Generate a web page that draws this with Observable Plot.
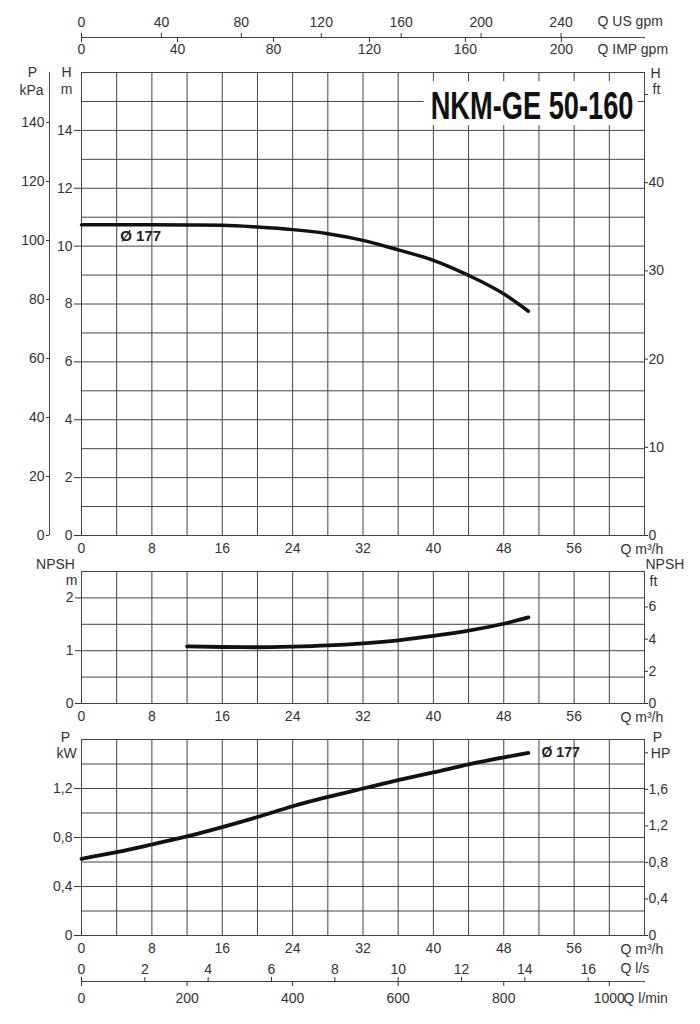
<!DOCTYPE html>
<html><head><meta charset="utf-8">
<script src="https://cdn.jsdelivr.net/npm/d3@7"></script>
<script src="https://cdn.jsdelivr.net/npm/@observablehq/plot@0.6"></script>
<style>
html,body{margin:0;padding:0;background:#fff;overflow:hidden;}
#chart{width:700px;}
#chart svg{display:block;}
</style></head><body><div id="chart"></div>
<script>
// ---------- text ----------
const TITLE = "NKM-GE 50-160";
const IMPELLER = "Ø 177";

// ---------- flow axis (m³/h) ----------
const qDomain = [0, 64];
const qGrid = [0, 4, 8, 12, 16, 20, 24, 28, 32, 36, 40, 44, 48, 52, 56, 60, 64];
const qTicks = [0, 8, 16, 24, 32, 40, 48, 56];

// ---------- secondary flow units ----------
const usGpmTicks = [0, 40, 80, 120, 160, 200, 240];
const impGpmTicks = [0, 40, 80, 120, 160, 200];
const lsTicks = [0, 2, 4, 6, 8, 10, 12, 14, 16];
const lminTicks = [0, 200, 400, 600, 800, 1000];

// ---------- head panel ----------
const headDomain = [0, 16];
const headGrid = [0, 1, 2, 3, 4, 5, 6, 7, 8, 9, 10, 11, 12, 13, 14, 15, 16];
const headTicksM = [0, 2, 4, 6, 8, 10, 12, 14];
const headTicksKPa = [0, 20, 40, 60, 80, 100, 120, 140];
const headTicksFt = [0, 10, 20, 30, 40];
const headTicksFtUnlabelled = [50];
const headQ = [0, 4, 8, 12, 16, 20, 24, 28, 32, 36, 40, 44, 48, 50.8];
const headH = [10.74, 10.74, 10.74, 10.73, 10.72, 10.66, 10.57, 10.43, 10.20, 9.87, 9.51, 8.99, 8.35, 7.75];

// ---------- NPSH panel ----------
const npshDomain = [0, 2.5];
const npshGrid = [0, 0.5, 1, 1.5, 2, 2.5];
const npshTicksM = [0, 1, 2];
const npshTicksFt = [0, 2, 4, 6];
const npshQ = [12, 16, 20, 24, 28, 32, 36, 40, 44, 48, 50.8];
const npshM = [1.083, 1.07, 1.065, 1.077, 1.10, 1.14, 1.197, 1.28, 1.38, 1.51, 1.63];

// ---------- power panel ----------
const powerDomain = [0, 1.6];
const powerGrid = [0, 0.2, 0.4, 0.6, 0.8, 1.0, 1.2, 1.4, 1.6];
const powerTicksKW = [0, 0.4, 0.8, 1.2];
const powerTicksHP = [0, 0.4, 0.8, 1.2, 1.6];
const powerTicksHPUnlabelled = [2.0];
const powerQ = [0, 4, 8, 12, 16, 20, 24, 28, 32, 36, 40, 44, 48, 50.8];
const powerKW = [0.626, 0.68, 0.743, 0.809, 0.885, 0.967, 1.055, 1.131, 1.20, 1.268, 1.331, 1.397, 1.454, 1.49];

// annotation anchors (data units)
const headLabelAt = {q: 4.4, v: 10.35};
const powerLabelAt = {q: 52.3, v: 1.49};

// ---------- unit conversions ----------
const US = 0.227125, IMP = 0.272765, LS = 3.6, LMIN = 0.06;
const KPA = 9.80665, FT = 0.3048, HP = 0.7457;

const comma = v => v === 0 ? "0" : v.toFixed(1).replace(".", ",");
const intStr = v => String(Math.round(v));

const GRID = "#444", INK = "#111";
const FONT = "'Liberation Sans', Arial, sans-serif";

function base(height, marginTop, marginBottom, extra = {}) {
  return {
    width: 700, height, marginLeft: 81, marginRight: 56, marginTop, marginBottom,
    x: {domain: qDomain},
    style: {fontFamily: FONT, fontSize: "14px", color: "#333", background: "#fff", overflow: "visible"},
    ...extra
  };
}
const lbl = (s, o) => Plot.text([s], {lineAnchor: "middle", fill: "#333", ...o});

// ---------- top strip ----------
const topStrip = Plot.plot(base(62, 37, 25, {marks: [
  Plot.frame({anchor: "top", stroke: GRID}),
  Plot.axisX(usGpmTicks.map(v => v * US), {anchor: "top", tickSize: 5, tickPadding: 6, label: null, tickFormat: d => intStr(d / US)}),
  Plot.axisX(impGpmTicks.map(v => v * IMP), {anchor: "bottom", tickSize: 5, tickPadding: 2, label: null, tickFormat: d => intStr(d / IMP)}),
  lbl("Q US gpm", {frameAnchor: "top-right", textAnchor: "start", dx: -47, dy: -16}),
  lbl("Q IMP gpm", {frameAnchor: "bottom-right", textAnchor: "start", dx: -47, dy: 12})
]}));

// ---------- head panel ----------
const headPlot = Plot.plot(base(494, 10, 21, {y: {domain: headDomain}, marks: [
  Plot.gridX(qGrid, {stroke: GRID, strokeOpacity: 1}),
  Plot.gridY(headGrid, {stroke: GRID, strokeOpacity: 1}),
  Plot.frame({stroke: GRID}),
  Plot.axisY(headTicksM, {anchor: "left", tickSize: 7, tickPadding: 2, label: null, tickFormat: intStr}),
  Plot.axisY(headTicksKPa.map(v => v / KPA), {anchor: "left", dx: -32, tickSize: 3, tickPadding: 2, label: null, tickFormat: d => intStr(d * KPA)}),
  Plot.ruleX([qDomain[0]], {dx: -32, y1: headDomain[0], y2: headDomain[1], stroke: GRID}),
  Plot.axisY(headTicksFt.map(v => v * FT), {anchor: "right", tickSize: 3, tickPadding: 1, label: null, tickFormat: d => intStr(d / FT)}),
  Plot.axisY(headTicksFtUnlabelled.map(v => v * FT), {anchor: "right", tickSize: 3, label: null, fill: "none"}),
  Plot.axisX(qTicks, {anchor: "bottom", tickSize: 0, tickPadding: 8, label: null, tickFormat: intStr}),
  lbl("Q m³/h", {frameAnchor: "bottom-right", textAnchor: "start", dx: -24, dy: 14}),
  lbl("P", {frameAnchor: "top-left", textAnchor: "middle", dx: -49, dy: 0}),
  lbl("kPa", {frameAnchor: "top-left", textAnchor: "middle", dx: -50, dy: 18}),
  lbl("H", {frameAnchor: "top-left", textAnchor: "middle", dx: -15, dy: 0}),
  lbl("m", {frameAnchor: "top-left", textAnchor: "middle", dx: -15, dy: 17}),
  lbl("H", {frameAnchor: "top-right", textAnchor: "middle", dx: 11, dy: 1}),
  lbl("ft", {frameAnchor: "top-right", textAnchor: "middle", dx: 12, dy: 17}),
  Plot.text([TITLE], {frameAnchor: "top-right", textAnchor: "end", lineAnchor: "middle", dx: -11, dy: 34, fontSize: 39, fontWeight: "bold", fill: INK}),
  Plot.line(headQ, {x: headQ, y: headH, stroke: INK, strokeWidth: 3.5, curve: "monotone-x"}),
  Plot.text([IMPELLER], {x: headLabelAt.q, y: headLabelAt.v, textAnchor: "start", lineAnchor: "middle", fontSize: 15, fontWeight: "bold", fill: "#222"})
]}));

// ---------- NPSH panel ----------
const npshPlot = Plot.plot(base(170, 15, 23, {y: {domain: npshDomain}, marks: [
  Plot.gridX(qGrid, {stroke: GRID, strokeOpacity: 1}),
  Plot.gridY(npshGrid, {stroke: GRID, strokeOpacity: 1}),
  Plot.frame({stroke: GRID}),
  Plot.axisY(npshTicksM, {anchor: "left", tickSize: 6, tickPadding: 2, label: null, tickFormat: intStr}),
  Plot.axisY(npshTicksFt.map(v => v * FT), {anchor: "right", tickSize: 3, tickPadding: 1, label: null, tickFormat: d => intStr(d / FT)}),
  Plot.axisX(qTicks, {anchor: "bottom", tickSize: 0, tickPadding: 8, label: null, tickFormat: intStr}),
  lbl("Q m³/h", {frameAnchor: "bottom-right", textAnchor: "start", dx: -24, dy: 14}),
  lbl("NPSH", {frameAnchor: "top-left", textAnchor: "middle", dx: -26, dy: -7}),
  lbl("m", {frameAnchor: "top-left", textAnchor: "middle", dx: -10, dy: 9}),
  lbl("NPSH", {frameAnchor: "top-right", textAnchor: "start", dx: 1, dy: -7}),
  lbl("ft", {frameAnchor: "top-right", textAnchor: "start", dx: 5, dy: 10}),
  Plot.line(npshQ, {x: npshQ, y: npshM, stroke: INK, strokeWidth: 3.8, curve: "monotone-x"})
]}));

// ---------- power panel ----------
const powerPlot = Plot.plot(base(236, 13, 27, {y: {domain: powerDomain}, marks: [
  Plot.gridX(qGrid, {stroke: GRID, strokeOpacity: 1}),
  Plot.gridY(powerGrid, {stroke: GRID, strokeOpacity: 1}),
  Plot.frame({stroke: GRID}),
  Plot.axisY(powerTicksKW, {anchor: "left", tickSize: 7, tickPadding: 2, label: null, tickFormat: comma}),
  Plot.axisY(powerTicksHP.map(v => v * HP), {anchor: "right", tickSize: 3, tickPadding: 1, label: null, tickFormat: d => comma(Math.round(d / HP * 10) / 10)}),
  Plot.axisY(powerTicksHPUnlabelled.map(v => v * HP), {anchor: "right", tickSize: 3, label: null, fill: "none"}),
  Plot.axisX(qTicks, {anchor: "bottom", tickSize: 0, tickPadding: 8, label: null, tickFormat: intStr}),
  lbl("Q m³/h", {frameAnchor: "bottom-right", textAnchor: "start", dx: -24, dy: 14}),
  lbl("P", {frameAnchor: "top-left", textAnchor: "middle", dx: -16, dy: -2}),
  lbl("kW", {frameAnchor: "top-left", textAnchor: "middle", dx: -15, dy: 14}),
  lbl("P", {frameAnchor: "top-right", textAnchor: "middle", dx: 13, dy: -2}),
  lbl("HP", {frameAnchor: "top-right", textAnchor: "middle", dx: 16, dy: 14}),
  Plot.line(powerQ, {x: powerQ, y: powerKW, stroke: INK, strokeWidth: 3.8, curve: "monotone-x"}),
  Plot.text([IMPELLER], {x: powerLabelAt.q, y: powerLabelAt.v, textAnchor: "start", lineAnchor: "middle", fontSize: 14, fontWeight: "bold", fill: "#222"})
]}));

// ---------- bottom strip ----------
const bottomStrip = Plot.plot(base(62, 19, 43, {marks: [
  Plot.frame({anchor: "top", stroke: GRID}),
  Plot.axisX(lsTicks.map(v => v * LS), {anchor: "top", tickSize: 5, tickPadding: 3, label: null, tickFormat: d => intStr(d / LS)}),
  Plot.axisX(lminTicks.map(v => v * LMIN), {anchor: "bottom", tickSize: 5, tickPadding: 7, label: null, tickFormat: d => intStr(d / LMIN)}),
  lbl("Q l/s", {frameAnchor: "top-right", textAnchor: "start", dx: -24, dy: -13}),
  lbl("Q l/min", {frameAnchor: "bottom-right", textAnchor: "start", dx: -21, dy: 17})
]}));

const chart = document.getElementById("chart");
[topStrip, headPlot, npshPlot, powerPlot, bottomStrip].forEach(s => chart.appendChild(s));

// condense the title horizontally (as in the original's narrow bold face) and give it a white box
const titleEl = Array.from(headPlot.querySelectorAll("text")).find(e => e.textContent === TITLE);
if (titleEl) {
  const natural = titleEl.getComputedTextLength();
  const s = 203 / natural;
  const tr = titleEl.getAttribute("transform") || "";
  titleEl.setAttribute("transform", `${tr} scale(${s},1)`);
  const bb = titleEl.getBBox();
  const r = document.createElementNS("http://www.w3.org/2000/svg", "rect");
  r.setAttribute("transform", tr);
  r.setAttribute("x", bb.x * s - 7);
  r.setAttribute("y", bb.y - 3);
  r.setAttribute("width", bb.width * s + 11);
  r.setAttribute("height", bb.height + 1);
  r.setAttribute("fill", "#fff");
  titleEl.parentNode.insertBefore(r, titleEl);
}
</script></body></html>
